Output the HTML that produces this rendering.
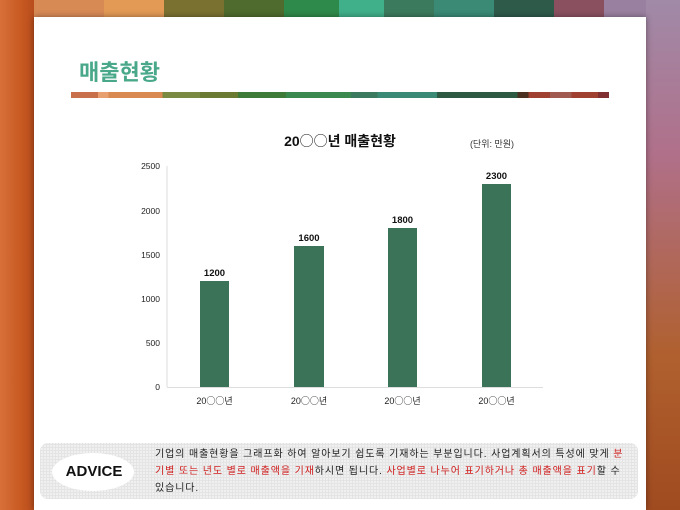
<!DOCTYPE html>
<html><head><meta charset="utf-8"><style>
body{margin:0;width:680px;height:510px;overflow:hidden;position:relative;font-family:"Liberation Sans","Noto Sans CJK KR",sans-serif;background:#c8642e}
.s{position:absolute;top:0;height:510px}
</style></head><body>
<div class="s" style="left:0;width:34px;background:linear-gradient(90deg,#d8703a,#c85a22 60%,#b84d1c)"></div>
<div class="s" style="left:34px;width:70px;background:#d88a55"></div>
<div class="s" style="left:104px;width:60px;background:#e29a55"></div>
<div class="s" style="left:164px;width:60px;background:#7a7030"></div>
<div class="s" style="left:224px;width:60px;background:#4f6b2e"></div>
<div class="s" style="left:284px;width:55px;background:#2e8a4a"></div>
<div class="s" style="left:339px;width:45px;background:#40b08a"></div>
<div class="s" style="left:384px;width:50px;background:#3c7a5e"></div>
<div class="s" style="left:434px;width:60px;background:#3a8a76"></div>
<div class="s" style="left:494px;width:60px;background:#2e5a4a"></div>
<div class="s" style="left:554px;width:50px;background:#8a5060"></div>
<div class="s" style="left:604px;width:42px;background:#9a80a0"></div>
<div class="s" style="left:646px;width:34px;background:linear-gradient(180deg,#a08aa8,#b0708a 30%,#b0602e 70%,#a04a20)"></div>
<div style="position:absolute;left:34px;top:17px;width:612px;height:493px;background:#fff;box-shadow:0 0 6px rgba(0,0,0,.4)"></div>
<div style="position:absolute;left:79px;top:55px;font-size:22px;font-weight:bold;color:#4aa88a">매출현황</div>
<div style="position:absolute;left:71px;top:92px;width:538px;height:6px;background:linear-gradient(90deg,#c8704a 0 5%,#e8a070 5% 7%,#d88a50 7% 17%,#7a8a40 17% 24%,#6a7a30 24% 31%,#3e7a38 31% 40%,#3a8a50 40% 52%,#3c7a60 52% 57%,#3a8a76 57% 68%,#2e5a44 68% 83%,#4a3020 83% 85%,#a04030 85% 89%,#a05a50 89% 93%,#a04030 93% 98%,#803030 98%)"></div>
<svg width="680" height="510" style="position:absolute;left:0;top:0" font-family="Liberation Sans, Noto Sans CJK KR, sans-serif">
<text x="340" y="146" font-size="14" font-weight="bold" text-anchor="middle" fill="#111">20<tspan font-family="Noto Sans CJK KR" font-weight="normal">○○</tspan>년 매출현황</text>
<text x="492" y="147" font-size="9" text-anchor="middle" fill="#333">(단위: 만원)</text>
<line x1="167" y1="166" x2="167" y2="387" stroke="#ddd"/>
<line x1="167" y1="387.5" x2="543" y2="387.5" stroke="#ddd"/>
<g font-size="8.5" fill="#222" text-anchor="end">
<text x="160" y="169">2500</text><text x="160" y="214">2000</text><text x="160" y="258">1500</text><text x="160" y="302">1000</text><text x="160" y="346">500</text><text x="160" y="390">0</text></g>
<g fill="#3b7358">
<rect x="200" y="281" width="29" height="106"/><rect x="294" y="246" width="30" height="141"/><rect x="388" y="228" width="29" height="159"/><rect x="482" y="184" width="29" height="203"/></g>
<g font-size="9.5" font-weight="bold" fill="#111" text-anchor="middle">
<text x="214.5" y="276">1200</text><text x="309" y="241">1600</text><text x="402.5" y="223">1800</text><text x="496.5" y="179">2300</text></g>
<g font-size="9" fill="#222" text-anchor="middle">
<text x="214.5" y="404">20<tspan font-family="Noto Sans CJK KR">○○</tspan>년</text><text x="309" y="404">20<tspan font-family="Noto Sans CJK KR">○○</tspan>년</text><text x="402.5" y="404">20<tspan font-family="Noto Sans CJK KR">○○</tspan>년</text><text x="496.5" y="404">20<tspan font-family="Noto Sans CJK KR">○○</tspan>년</text></g>
</svg>
<div style="position:absolute;left:40px;top:443px;width:598px;height:56px;border-radius:8px;background:#f0f0f0;background-image:repeating-linear-gradient(0deg,#e4e4e4 0 1px,transparent 1px 3px),repeating-linear-gradient(90deg,#e4e4e4 0 1px,transparent 1px 3px)"></div>
<div style="position:absolute;left:52px;top:453px;width:82px;height:38px;border-radius:50%;background:#fff"></div>
<div style="position:absolute;left:52px;top:463px;width:84px;text-align:center;font-size:15px;font-weight:bold;color:#111">ADVICE</div>
<div style="position:absolute;left:155px;top:446px;white-space:nowrap;font-size:10px;letter-spacing:0.9px;line-height:17px;color:#222">기업의 매출현황을 그래프화 하여 알아보기 쉽도록 기재하는 부분입니다. 사업계획서의 특성에 맞게 <span style="color:#d02020">분</span><br><span style="color:#d02020">기별 또는 년도 별로 매출액을 기재</span>하시면 됩니다. <span style="color:#d02020">사업별로 나누어 표기하거나 총 매출액을 표기</span>할 수<br>있습니다.</div>
</body></html>
